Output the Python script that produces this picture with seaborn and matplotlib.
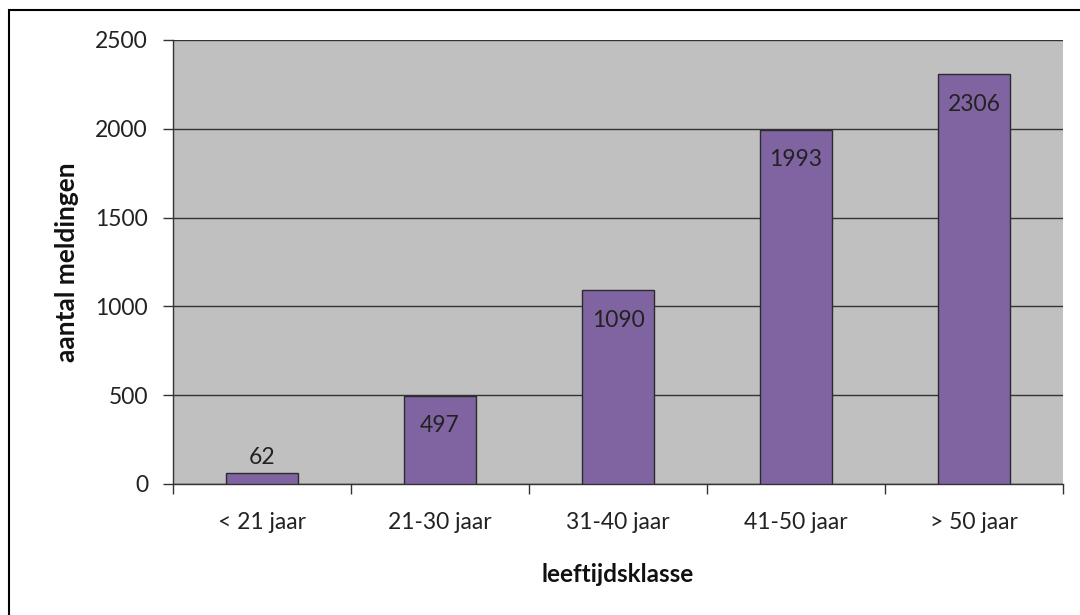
import matplotlib
matplotlib.use("Agg")
import matplotlib.pyplot as plt
import seaborn as sns
import pandas as pd
from matplotlib.patches import Rectangle

categories = ["< 21 jaar", "21-30 jaar", "31-40 jaar", "41-50 jaar", "> 50 jaar"]
values = [62, 497, 1090, 1993, 2306]
y_ticks = [0, 500, 1000, 1500, 2000, 2500]

sns.set_theme(style="white")
plt.rcParams['font.family'] = ['Lato', 'DejaVu Sans']

df = pd.DataFrame({"klasse": categories, "aantal": values})

fig = plt.figure(figsize=(10.8, 6.15), dpi=100)
ax = fig.add_axes([173/1080, 1-484/615, (1063-173)/1080, 444/615])
ax.set_facecolor("#C0C0C0")

sns.barplot(data=df, x="klasse", y="aantal", color="#8064A2", width=0.4,
            edgecolor="#2b2b2b", linewidth=1.0, saturation=1, ax=ax, zorder=3)

FS = 16.5
ax.set_ylim(0, 2500)
ax.set_xlim(-0.5, len(categories) - 0.5)
ax.set_yticks(y_ticks)
ax.set_yticklabels([str(t) for t in y_ticks], fontsize=FS, color="#222222")
ax.yaxis.grid(True, color="#333333", linewidth=1.0, zorder=1)
ax.set_axisbelow(True)

# x ticks at category boundaries
ax.set_xticks([i - 0.5 for i in range(len(categories) + 1)], minor=False)
ax.set_xticklabels([""] * (len(categories) + 1))
ax.set_xticks(range(len(categories)), minor=True)
ax.set_xticklabels(categories, minor=True, fontsize=FS, color="#222222")
ax.tick_params(axis="x", which="major", direction="out", length=7, width=1, color="#333333", bottom=True)
ax.tick_params(axis="x", which="minor", length=0, pad=20)
ax.tick_params(axis="y", direction="out", length=7, width=1, color="#333333", left=True, pad=11)

for s in ["top", "right"]:
    ax.spines[s].set_visible(False)
for s in ["left", "bottom"]:
    ax.spines[s].set_color("#333333")
    ax.spines[s].set_linewidth(1.0)

ax.set_xlabel("leeftijdsklasse", fontsize=17.5, fontweight="bold", labelpad=22, color="#111111")
ax.set_ylabel("aantal meldingen", fontsize=19, fontweight="bold", labelpad=12, color="#111111")

for i, v in enumerate(values):
    if v < 250:
        ax.annotate(str(v), (i, v), xytext=(0, 11), textcoords="offset points",
                    ha="center", va="center", fontsize=FS, color="#222222", zorder=5)
    else:
        ax.annotate(str(v), (i, v), xytext=(0, -21.5), textcoords="offset points",
                    ha="center", va="center", fontsize=FS, color="#222222", zorder=5)

fig.patches.append(Rectangle((9/1080, -0.1), 1.2, 1 - 10/615 + 0.1, transform=fig.transFigure,
                             fill=False, edgecolor="black", linewidth=1.5))

fig.savefig("out.png", dpi=100)
